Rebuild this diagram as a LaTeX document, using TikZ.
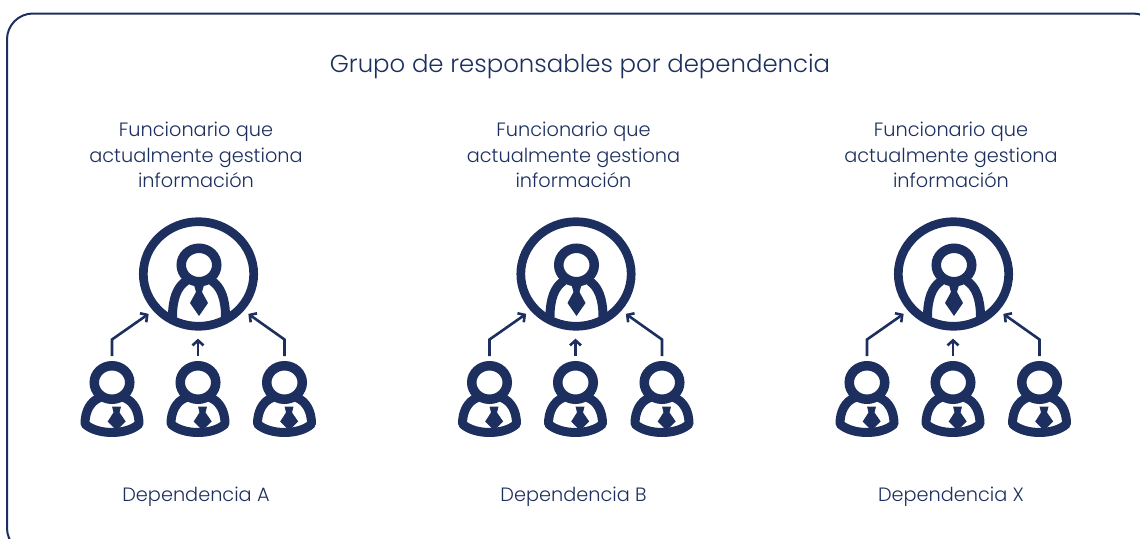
\documentclass[tikz,border=0pt]{standalone}
\usepackage{fontspec}
\setmainfont{Poppins Light}
\usetikzlibrary{arrows.meta,shapes.geometric}
\definecolor{navy}{HTML}{1C2F5E}
\tikzset{
    x=1pt,y=-1pt,
    label/.style={text=navy,inner sep=0pt,align=center,font=\fontsize{19.3}{25.5}\selectfont},
    ring/.style={draw=navy,ellipse,inner sep=0pt},
    headring/.style={ring,line width=9.5pt,minimum width=35.5pt,minimum height=33.5pt},
    flow/.style={navy,line width=2.6pt,-{Straight Barb[length=5pt,width=11pt]},shorten >=5.5pt,shorten <=5pt},
    outline/.style={draw=navy,line width=9pt,line join=round,line cap=round},
    necktie/.style={fill=navy},
    pics/boss/.style={code={
        \draw [outline,line cap=butt] (-26.5,52) .. controls (-26.5,34) and (-22,22) .. (-13,16);
        \draw [outline,line cap=butt] (26.5,52) .. controls (26.5,34) and (22,22) .. (13,16);
        \fill [necktie] (-5,20) -- (5,20) -- (3,27) -- (9,38) -- (0,51) -- (-9,38) -- (-3,27) -- cycle;
    }},
    pics/staff/.style={code={
        \draw [outline] (-12,15) .. controls (-22,19) and (-27,29) .. (-27,41.5)
                        .. controls (-15,52.8) and (15,52.8) .. (27,41.5)
                        .. controls (27,29) and (22,19) .. (12,15);
        \fill [necktie] (0,24) -- (9,24) -- (7.5,30) -- (13.7,39) -- (4.7,48) -- (-4.3,39) -- (1.5,30) -- cycle;
    }},
}
\begin{document}
\begin{tikzpicture}
    \clip (0,0) rectangle (1140,538);
    \draw [navy,line width=2pt,rounded corners=26pt] (7,13.5) rectangle (1159,554);
    \node [label,font=\fontsize{24.4}{30}\selectfont] (title) at (580,66) {Grupo de responsables por dependencia};
    \foreach \grp/\dx/\name in {a/0/A,b/377.5/B,x/755/X}{
        \begin{scope}[xshift=\dx pt]
            \node [label] (role\grp) at (196,155) {Funcionario que\\actualmente gestiona\\información};
            \node [ring,line width=8.7pt,minimum width=110.4pt,minimum height=104.6pt] (lead\grp) at (198.5,274) {};
            \node [headring] (bosshead\grp) at (199,265) {};
            \pic at (bosshead\grp) {boss};
            \node [headring] (one\grp) at (112,382.5) {};
            \node [headring] (two\grp) at (198,382.5) {};
            \node [headring] (three\grp) at (284.5,382.5) {};
            \pic at (one\grp) {staff};
            \pic at (two\grp) {staff};
            \pic at (three\grp) {staff};
            \draw [flow] (one\grp.north) -- ++(0,-21.5) -- (lead\grp.219);
            \draw [flow,shorten >=8pt] (two\grp.north) -- (two\grp.north |- lead\grp.south);
            \draw [flow] (three\grp.north) -- ++(0,-21.5) -- (lead\grp.321);
            \node [label] (dep\grp) at (196,497) {Dependencia \name};
        \end{scope}
    }
\end{tikzpicture}
\end{document}
